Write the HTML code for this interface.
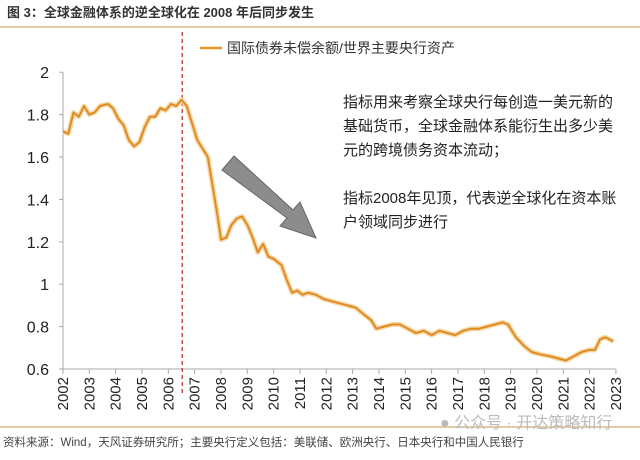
<!DOCTYPE html>
<html><head><meta charset="utf-8"><style>
body{margin:0;background:#fff;font-family:"Liberation Sans","Noto Sans CJK SC",sans-serif;}
svg text{font-family:"Liberation Sans","Noto Sans CJK SC",sans-serif;}
</style></head><body>
<svg id="c" width="640" height="455" xmlns="http://www.w3.org/2000/svg">
<text x="7" y="17" font-size="13" font-weight="bold" fill="#333">图 3：全球金融体系的逆全球化在 2008 年后同步发生</text>
<line x1="0" y1="27" x2="640" y2="27" stroke="#d9b98a" stroke-width="1.5"/>
<line x1="200" y1="48" x2="222" y2="48" stroke="#e8962e" stroke-width="2.5"/>
<text x="227" y="53" font-size="14" fill="#333">国际债券未偿余额/世界主要央行资产</text>
<g id="axes"></g>
<g font-size="15" fill="#222">
<text x="343" y="107">指标用来考察全球央行每创造一美元新的</text>
<text x="343" y="131">基础货币，全球金融体系能衍生出多少美</text>
<text x="343" y="155">元的跨境债务资本流动；</text>
<text x="343" y="203">指标2008年见顶，代表逆全球化在资本账</text>
<text x="343" y="227">户领域同步进行</text>
</g>
<polygon points="222,170 234,156 293,210 300,202 316,238 280,226 287,218" fill="#8c8c8c" stroke="#666" stroke-width="1"/>
<line x1="0" y1="427" x2="640" y2="427" stroke="#d9b98a" stroke-width="1.5"/>
<text x="440" y="428" font-size="16" fill="#bbb">● 公众号 · 开达策略知行</text>
<text x="3" y="446" font-size="11.5" fill="#444">资料来源：Wind，天风证券研究所；主要央行定义包括：美联储、欧洲央行、日本央行和中国人民银行</text>
</svg>
<script>
const years=[2002,2003,2004,2005,2006,2007,2008,2009,2010,2011,2012,2013,2014,2015,2016,2017,2018,2019,2020,2021,2022,2023];
const yTicks=[0.6,0.8,1,1.2,1.4,1.6,1.8,2];
const seriesT=[2002.0,2002.2,2002.4,2002.6,2002.8,2003.0,2003.2,2003.4,2003.7,2003.9,2004.1,2004.3,2004.5,2004.7,2004.9,2005.1,2005.3,2005.5,2005.7,2005.9,2006.1,2006.3,2006.5,2006.7,2006.9,2007.1,2007.3,2007.5,2007.7,2007.9,2008.0,2008.2,2008.4,2008.6,2008.8,2009.0,2009.2,2009.4,2009.6,2009.8,2010.0,2010.3,2010.5,2010.7,2010.9,2011.1,2011.3,2011.6,2011.9,2012.2,2012.5,2012.8,2013.1,2013.4,2013.7,2013.9,2014.2,2014.5,2014.8,2015.1,2015.4,2015.7,2016.0,2016.3,2016.6,2016.9,2017.2,2017.5,2017.8,2018.1,2018.4,2018.7,2018.9,2019.2,2019.5,2019.8,2020.1,2020.5,2020.8,2021.1,2021.4,2021.7,2022.0,2022.2,2022.4,2022.6,2022.9];
const seriesV=[1.72,1.71,1.81,1.79,1.84,1.80,1.81,1.84,1.85,1.83,1.78,1.75,1.68,1.65,1.67,1.74,1.79,1.79,1.83,1.82,1.85,1.84,1.87,1.84,1.76,1.68,1.64,1.60,1.45,1.30,1.21,1.22,1.28,1.31,1.32,1.28,1.22,1.15,1.19,1.13,1.12,1.09,1.02,0.96,0.97,0.95,0.96,0.95,0.93,0.92,0.91,0.90,0.89,0.86,0.83,0.79,0.80,0.81,0.81,0.79,0.77,0.78,0.76,0.78,0.77,0.76,0.78,0.79,0.79,0.80,0.81,0.82,0.81,0.75,0.71,0.68,0.67,0.66,0.65,0.64,0.66,0.68,0.69,0.69,0.74,0.75,0.73];
const markerYear=2006.53;
const NS="http://www.w3.org/2000/svg";
const X=t=>63+(t-2002)*26.33;
const Y=v=>369-(v-0.6)/0.2*42.4;
const g=document.getElementById('axes');
function mk(tag,attrs,parent){const e=document.createElementNS(NS,tag);for(const k in attrs)e.setAttribute(k,attrs[k]);(parent||g).appendChild(e);return e;}
const ya=mk('line',{x1:63,y1:Y(2),x2:63,y2:369,stroke:'#aaa'});


const xa=mk('line',{x1:63,y1:369,x2:X(2023),y2:369,stroke:'#aaa'});


yTicks.forEach(v=>{
 const t=mk('line',{x1:59,y1:Y(v),x2:63,y2:Y(v),stroke:'#aaa'});
 
 
 const l=mk('text',{x:49,y:Y(v)+6,'font-size':16,'text-anchor':'end',fill:'#222'});
 l.textContent=String(v);
 
 
});
years.forEach(yr=>{
 const t=mk('line',{x1:X(yr),y1:369,x2:X(yr),y2:374,stroke:'#aaa'});
 
 
 const l=mk('text',{x:0,y:0,'font-size':15,'text-anchor':'end',fill:'#222',transform:`translate(${X(yr)+5},377) rotate(-90)`});
 l.textContent=yr;
 
 
});
const ml=mk('line',{x1:X(markerYear),y1:32,x2:X(markerYear),y2:396,stroke:'#c0392b','stroke-dasharray':'4,3','stroke-width':1.3});


const d=seriesT.map((t,i)=>(i?'L':'M')+X(t).toFixed(1)+','+Y(seriesV[i]).toFixed(1)).join(' ');
const glow=mk('path',{d:d,fill:'none',stroke:'#f7d9a8','stroke-width':5,'stroke-linejoin':'round'});


const p=mk('path',{d:d,fill:'none',stroke:'#e08a26','stroke-width':2,'stroke-linejoin':'round'});


</script>
</body></html>
